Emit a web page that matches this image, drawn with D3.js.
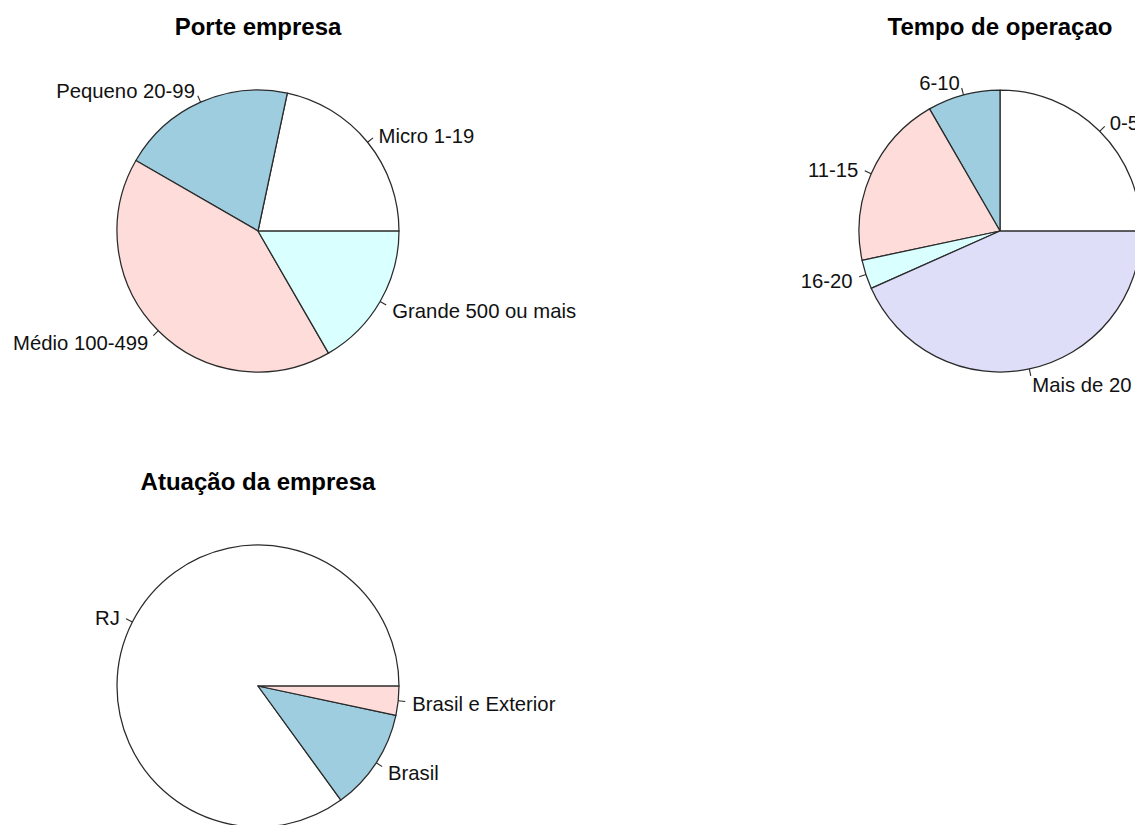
<!DOCTYPE html>
<html>
<head>
<meta charset="utf-8">
<script src="https://cdn.jsdelivr.net/npm/d3@7"></script>
<style>
  html, body { margin: 0; padding: 0; background: #fff; overflow: hidden; }
  svg { display: block; font-family: "Liberation Sans", Arial, Helvetica, sans-serif; }
</style>
</head>
<body>
<svg id="chart" width="1135" height="825"></svg>
<script>
// Company profile: three pie charts (counts of firms)
const porteLabels = ["Micro 1-19", "Pequeno 20-99", "Médio 100-499", "Grande 500 ou mais"];
const porteValues = [13, 12, 25, 10];

const tempoLabels = ["0-5", "6-10", "11-15", "16-20", "Mais de 20"];
const tempoValues = [15, 5, 12, 2, 26];

const atuacaoLabels = ["RJ", "Brasil", "Brasil e Exterior"];
const atuacaoValues = [51, 7, 2];

const titles = ["Porte empresa", "Tempo de operaçao", "Atuação da empresa"];

// R-style default pie palette
const palette = ["#FFFFFF", "#9ECDDF", "#FEDCDA", "#D9FFFF", "#DEDEF8", "#FFF8DC"];

const svg = d3.select("#chart");

// panel grid: 2 x 2, pies placed at cell centers
const col = d3.scalePoint().domain([0, 1]).range([258, 1000]);
const row = d3.scalePoint().domain([0, 1]).range([231, 686]);
const R = 141;

const panels = [
  { title: titles[0], labels: porteLabels, values: porteValues, c: 0, r: 0 },
  { title: titles[1], labels: tempoLabels, values: tempoValues, c: 1, r: 0 },
  { title: titles[2], labels: atuacaoLabels, values: atuacaoValues, c: 0, r: 1 }
];

// slices start at 3 o'clock and run counter-clockwise
const pie = d3.pie().sort(null)
  .startAngle(Math.PI / 2)
  .endAngle(Math.PI / 2 - 2 * Math.PI);

const arc = d3.arc().innerRadius(0).outerRadius(R);

panels.forEach(p => {
  const cx = col(p.c), cy = row(p.r);
  const g = svg.append("g").attr("transform", `translate(${cx},${cy})`);
  const arcs = pie(p.values);

  g.selectAll("path.slice")
    .data(arcs)
    .join("path")
    .attr("class", "slice")
    .attr("d", arc)
    .attr("fill", (d, i) => palette[i % palette.length])
    .attr("stroke", "#2a2a2a")
    .attr("stroke-width", 1.25)
    .attr("stroke-linejoin", "round");

  const mid = d => (d.startAngle + d.endAngle) / 2;
  const px = (d, k) => Math.sin(mid(d)) * R * k;
  const py = (d, k) => -Math.cos(mid(d)) * R * k;

  // short leader ticks
  g.selectAll("line.tick")
    .data(arcs)
    .join("line")
    .attr("class", "tick")
    .attr("x1", d => px(d, 1)).attr("y1", d => py(d, 1))
    .attr("x2", d => px(d, 1.05)).attr("y2", d => py(d, 1.05))
    .attr("stroke", "#2a2a2a")
    .attr("stroke-width", 1.1);

  g.selectAll("text.lab")
    .data(arcs)
    .join("text")
    .attr("class", "lab")
    .attr("x", d => px(d, 1.1))
    .attr("y", d => py(d, 1.1))
    .attr("dy", "0.45em")
    .attr("text-anchor", d => px(d, 1) < 0 ? "end" : "start")
    .attr("font-size", 20.3)
    .attr("fill", "#111")
    .text((d, i) => p.labels[i]);

  svg.append("text")
    .attr("x", cx)
    .attr("y", cy - 196)
    .attr("text-anchor", "middle")
    .attr("font-size", 24)
    .attr("font-weight", "bold")
    .attr("fill", "#000")
    .text(p.title);
});
</script>
</body>
</html>
